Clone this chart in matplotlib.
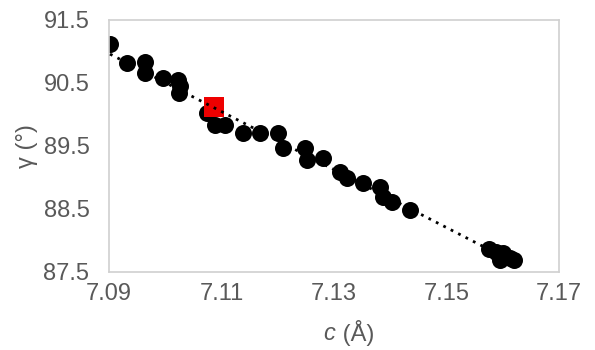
import matplotlib.pyplot as plt
import numpy as np

plt.rcParams['font.family'] = ['Liberation Sans', 'DejaVu Sans']

# lattice parameter c (Å) and angle gamma (deg) for each sample
c_vals = [7.0902, 7.0932, 7.0964, 7.0964, 7.0996, 7.1023, 7.1026, 7.1024,
          7.1074, 7.1088, 7.1106, 7.1138, 7.1168, 7.1200, 7.1209, 7.1248,
          7.1252, 7.1280, 7.1311, 7.1323, 7.1352, 7.1382, 7.1387, 7.1403,
          7.1435, 7.1576, 7.1588, 7.1600, 7.1595, 7.1613, 7.1620]
gamma_vals = [91.12, 90.82, 90.83, 90.66, 90.58, 90.55, 90.45, 90.34,
              90.02, 89.83, 89.83, 89.71, 89.71, 89.71, 89.47, 89.47,
              89.28, 89.31, 89.09, 88.99, 88.91, 88.85, 88.69, 88.61,
              88.48, 87.87, 87.82, 87.80, 87.69, 87.72, 87.69]

# highlighted sample
c_ref = [7.1087]
gamma_ref = [90.12]

x_ticks = [7.09, 7.11, 7.13, 7.15, 7.17]
y_ticks = [87.5, 88.5, 89.5, 90.5, 91.5]

fig = plt.figure(figsize=(5.95, 3.5), dpi=100)
ax = fig.add_axes([0.183, 0.223, 0.7565, 0.72])

ax.scatter(c_vals, gamma_vals, s=150, color='black', zorder=2, linewidths=0)
ax.scatter(c_ref, gamma_ref, s=210, marker='s', color='#ee0000', zorder=3,
           linewidths=0)

# linear trendline over the data range
coef = np.polyfit(c_vals, gamma_vals, 1)
xs = np.array([min(c_vals), max(c_vals)])
ax.plot(xs, np.polyval(coef, xs), color='black', lw=2,
        linestyle=(0, (1, 2)), zorder=4)

ax.set_xlim(7.09, 7.17)
ax.set_ylim(87.5, 91.5)
ax.set_xticks(x_ticks)
ax.set_xticklabels([f'{v:.2f}' for v in x_ticks])
ax.set_yticks(y_ticks)
ax.set_yticklabels([f'{v:.1f}' for v in y_ticks])
ax.tick_params(length=0, labelsize=17, colors='#595959')
ax.tick_params(axis='y', pad=14)
ax.tick_params(axis='x', pad=8)

for sp in ax.spines.values():
    sp.set_color('#d0d0d0')
    sp.set_linewidth(1.2)

ax.set_ylabel('γ (°)', fontsize=17, color='#595959', labelpad=4)

# x label: italic c followed by upright unit
fig.text(0.563, 0.048, 'c', fontsize=17, color='#595959', style='italic',
         ha='right', va='center')
fig.text(0.565, 0.048, ' (Å)', fontsize=17, color='#595959',
         ha='left', va='center')

fig.savefig('out.png', dpi=100)
